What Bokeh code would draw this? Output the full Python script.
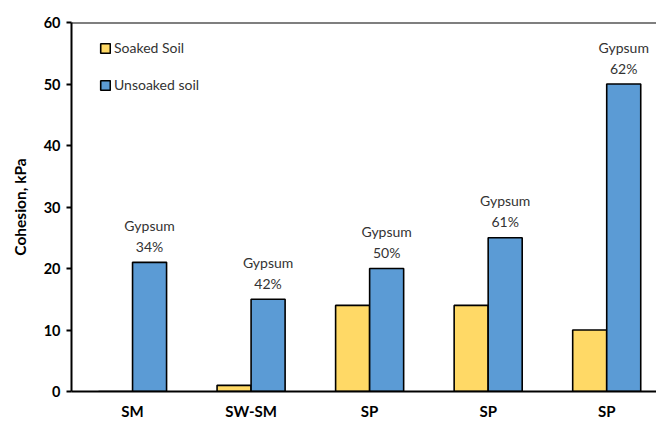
from bokeh.plotting import figure
from bokeh.models import (ColumnDataSource, Range1d, FixedTicker, Span, Legend, LegendItem)
from bokeh.transform import dodge
from bokeh.embed import file_html
from bokeh.resources import INLINE

categories = ["SM", "SW-SM", "SP", "SP", "SP"]
soaked = [0, 1, 14, 14, 10]
unsoaked = [21, 15, 20, 25, 50]
gypsum_word = ["Gypsum"] * 5
gypsum_pct = ["34%", "42%", "50%", "61%", "62%"]
y_ticks = [0, 10, 20, 30, 40, 50, 60]

FONT = "Lato"
pos = list(range(len(categories)))
src = ColumnDataSource(dict(x=pos, soaked=soaked, unsoaked=unsoaked,
                            word=gypsum_word, pct=gypsum_pct))

p = figure(width=656, height=422, output_backend="svg", toolbar_location=None,
           x_range=Range1d(-0.515, 4.42), y_range=Range1d(0, 60),
           min_border_left=71, min_border_right=0, min_border_top=22,
           min_border_bottom=31)
p.outline_line_color = None
p.xgrid.grid_line_color = None
p.ygrid.grid_line_color = None

bw = 0.287
r1 = p.vbar(x=dodge("x", -bw / 2), top="soaked", width=bw, source=src,
            fill_color="#FFD966", line_color="black", line_width=1.6)
r2 = p.vbar(x=dodge("x", bw / 2), top="unsoaked", width=bw, source=src,
            fill_color="#5B9BD5", line_color="black", line_width=1.6)

p.text(x=dodge("x", bw / 2), y="unsoaked", text="pct", source=src,
       text_align="center", text_baseline="middle", y_offset=-16,
       text_font={"value": FONT}, text_font_size="14px", text_color="#333333")
p.text(x=dodge("x", bw / 2), y="unsoaked", text="word", source=src,
       text_align="center", text_baseline="middle", y_offset=-37,
       text_font={"value": FONT}, text_font_size="14px", text_color="#333333")

p.add_layout(Span(location=60, dimension="width", line_color="black", line_width=2))

# axes
p.xaxis.ticker = FixedTicker(ticks=pos)
p.xaxis.major_label_overrides = {i: c for i, c in enumerate(categories)}
p.xaxis.major_tick_out = 0
p.xaxis.major_tick_in = 0
p.xaxis.minor_tick_line_color = None
p.xaxis.axis_line_width = 2
p.xaxis.axis_line_color = "black"
p.xaxis.major_label_standoff = 10
p.xaxis.major_label_text_font = FONT
p.xaxis.major_label_text_font_size = "15px"
p.xaxis.major_label_text_font_style = "bold"
p.xaxis.major_label_text_color = "black"

p.yaxis.ticker = FixedTicker(ticks=y_ticks)
p.yaxis.major_tick_out = 5
p.yaxis.major_tick_in = 0
p.yaxis.major_tick_line_width = 2
p.yaxis.minor_tick_line_color = None
p.yaxis.axis_line_width = 2
p.yaxis.axis_line_color = "black"
p.yaxis.major_label_standoff = 6
p.yaxis.major_label_text_font = FONT
p.yaxis.major_label_text_font_size = "14.5px"
p.yaxis.major_label_text_font_style = "bold"
p.yaxis.major_label_text_color = "black"
p.yaxis.axis_label = "Cohesion, kPa"
p.yaxis.axis_label_text_font = FONT
p.yaxis.axis_label_text_font_size = "15.5px"
p.yaxis.axis_label_text_font_style = "bold"
p.yaxis.axis_label_text_color = "black"
p.yaxis.axis_label_standoff = 12

legend = Legend(items=[LegendItem(label="Soaked Soil", renderers=[r1]),
                       LegendItem(label="Unsoaked soil", renderers=[r2])],
                location=(28, 298), padding=0, margin=0, spacing=20,
                glyph_width=12, glyph_height=12, label_height=16,
                label_standoff=3, border_line_color=None,
                background_fill_color=None,
                label_text_font=FONT, label_text_font_size="14px",
                label_text_color="#333333")
p.add_layout(legend)

open("out.html", "w").write(file_html(p, INLINE))
